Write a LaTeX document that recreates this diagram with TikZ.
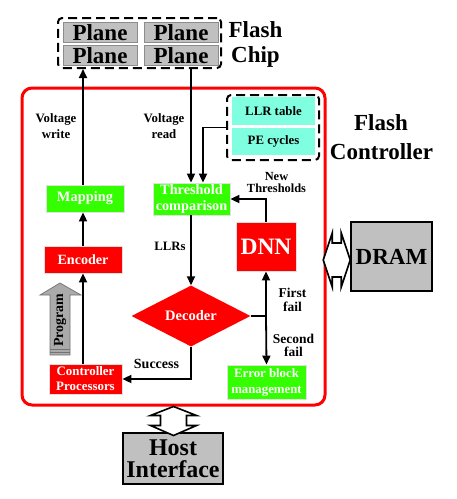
\documentclass[tikz,border=0pt]{standalone}
\usepackage{fontspec}
\setmainfont{Liberation Serif}
\usetikzlibrary{arrows.meta,shapes.geometric,calc}
\definecolor{bgreen}{RGB}{51,255,0}
\definecolor{bred}{RGB}{255,0,0}
\definecolor{bcyan}{RGB}{128,255,224}
\definecolor{bgray}{RGB}{192,192,192}
\definecolor{pgray}{RGB}{170,170,170}
\begin{document}
\begin{tikzpicture}[x=1pt,y=-1pt,
  box/.style={inner sep=0pt, align=center, text=white, draw=black!12, line width=0.8pt},
  gbox/.style={box, fill=bgreen},
  rbox/.style={box, fill=bred},
  cbox/.style={box, fill=bcyan, text=black, draw=none, font=\bfseries\fontsize{12.8}{14}\selectfont},
  plane/.style={fill=bgray, draw=black!45, line width=0.8pt, inner sep=0pt, minimum width=74pt, minimum height=20pt, font=\bfseries\fontsize{23}{24}\selectfont},
  dashbox/.style={draw=black, line width=2pt, dash pattern=on 9pt off 5pt, rounded corners=4pt, inner sep=0pt},
  conn/.style={line width=1.8pt, -{Triangle[length=9pt,width=8pt]}},
  plain/.style={line width=1.8pt},
  lbl/.style={font=\bfseries\fontsize{12.8}{15.5}\selectfont, align=center},
  big/.style={font=\bfseries\fontsize{23}{24}\selectfont},
  darrow/.style={draw=black, fill=white, line width=1.6pt, line join=miter},
]
\useasboundingbox (0,0) rectangle (457,499);

% Flash chip
\node[dashbox, minimum width=163pt, minimum height=50pt] (chip) at (139.5,43) {};
\node[plane] (p11) at (100,32.5) {Plane};
\node[plane] (p12) at (181,32.5) {Plane};
\node[plane] (p21) at (100,55.5) {Plane};
\node[plane] (p22) at (181,55.5) {Plane};
\node[big, anchor=base] (flashl) at (255.5,37.5) {Flash};
\node[big, anchor=base] (chipl) at (255.5,62) {Chip};

% Controller
\node[draw=bred, line width=3pt, rounded corners=10pt, minimum width=303pt, minimum height=317pt, inner sep=0pt] (ctrl) at (173.5,246.5) {};
\node[big, anchor=base] (fcl1) at (381,130) {Flash};
\node[big, anchor=base] (fcl2) at (381.5,159) {Controller};

% column coordinates
\coordinate (colL) at (83,0);
\coordinate (colM) at (191,0);
\coordinate (colN) at (203,0);

% boxes
\node[gbox, minimum width=78pt, minimum height=27pt, font=\bfseries\fontsize{14.4}{16}\selectfont] (map) at (85,198.5) {Mapping};
\node[rbox, minimum width=78pt, minimum height=27pt, font=\bfseries\fontsize{14.1}{16}\selectfont] (enc) at (83,259.5) {Encoder};
\node[rbox, minimum width=73pt, minimum height=30pt, font=\bfseries\fontsize{12.9}{15}\selectfont] (cp) at (85.5,379) {Controller\\Processors};
\node[gbox, minimum width=77pt, minimum height=32pt, font=\bfseries\fontsize{14.3}{15.5}\selectfont] (thr) at (191.5,199) {Threshold\\comparison};
\node[rbox, minimum width=60pt, minimum height=49pt, font=\bfseries\fontsize{23.5}{24}\selectfont] (dnn) at (266,246.5) {DNN};
\node[gbox, minimum width=79pt, minimum height=34pt, font=\bfseries\fontsize{12.8}{16}\selectfont] (err) at (266.5,382) {Error block\\management};
\node[diamond, aspect=2, fill=bred, text=white, inner sep=0pt, minimum width=119pt, minimum height=61pt, font=\bfseries\fontsize{14.5}{16}\selectfont] (dec) at (191,316) {Decoder};

% LLR group
\node[dashbox, minimum width=92pt, minimum height=65pt] (grp) at (273,127.5) {};
\node[cbox, minimum width=83pt, minimum height=28pt] (llr) at (273.5,111) {LLR table};
\node[cbox, minimum width=83pt, minimum height=27pt] (pe) at (273.5,141.5) {PE cycles};

% DRAM and Host
\node[fill=bgray, draw=black, line width=1.5pt, inner sep=0pt, minimum width=81pt, minimum height=69pt, big] (dram) at (391.5,256.5) {DRAM};
\node[fill=bgray, draw=black, line width=1.5pt, inner sep=0pt, minimum width=100pt, minimum height=51pt, align=center, font=\bfseries\fontsize{24}{22}\selectfont] (host) at (173,458.5) {Host\\Interface};

% Program block arrow
\draw[fill=pgray, draw=black!55, line width=0.7pt] (60,283) -- (81,295) -- (70,295) -- (70,355) -- (50,355) -- (50,295) -- (40,295) -- cycle;
\draw[black!55, line width=0.9pt] (50,349.5) -- (70,349.5) (50,352.5) -- (70,352.5);
\node[rotate=90, font=\bfseries\fontsize{13.9}{15}\selectfont] (prog) at (60,320) {Program};

% connectors
\draw[conn] (cp.north -| colL) -- (enc.south -| colL);
\draw[conn] (enc.north -| colL) -- (map.south -| colL);
\draw[conn] (map.north -| colL) -- (chip.south -| colL);
\draw[conn] (chip.south -| colM) -- (thr.north -| colM);
\draw[conn] (grp.west) -| (thr.north -| colN);
\draw[conn] (thr.south -| colM) -- (dec.north);
\draw[conn] (dnn.north) |- (thr.east);
\draw[conn] (dec.south) |- (cp.east);
\coordinate (jn) at (266,316);
\draw[plain] (dec.east) -- (jn);
\draw[conn] (jn) -- (dnn.south);
\draw[conn] (jn) -- (err.north);

% labels
\node[lbl] (vw) at (56,126) {Voltage\\write};
\node[lbl] (vr) at (164,126) {Voltage\\read};
\node[lbl] (llrs) at (170,246) {LLRs};
\node[lbl, font=\bfseries\fontsize{12.4}{12}\selectfont] (nt) at (276.5,182) {New\\Thresholds};
\node[lbl, font=\bfseries\fontsize{13.5}{13.5}\selectfont] (ff) at (292.5,300) {First\\fail};
\node[lbl, font=\bfseries\fontsize{13.5}{13.5}\selectfont] (sf) at (293.5,345.5) {Second\\fail};
\node[lbl, font=\bfseries\fontsize{14}{15}\selectfont] (succ) at (156.5,364) {Success};

% double arrows
\draw[darrow] ([xshift=-27pt,yshift=-3.5pt]dram.west) coordinate (dl) -- ++(9,-27) -- ++(0,10) -- ++(9,0) -- ++(0,-10) -- ++(9,27) -- ++(-9,27) -- ++(0,-10) -- ++(-9,0) -- ++(0,10) -- cycle;
\draw[darrow] (ctrl.south) coordinate (hl) -- ++(23,9) -- ++(-10,0) -- ++(0,10) -- ++(10,0) -- ++(-23,10) -- ++(-23,-10) -- ++(10,0) -- ++(0,-10) -- ++(-10,0) -- cycle;
\end{tikzpicture}
\end{document}
